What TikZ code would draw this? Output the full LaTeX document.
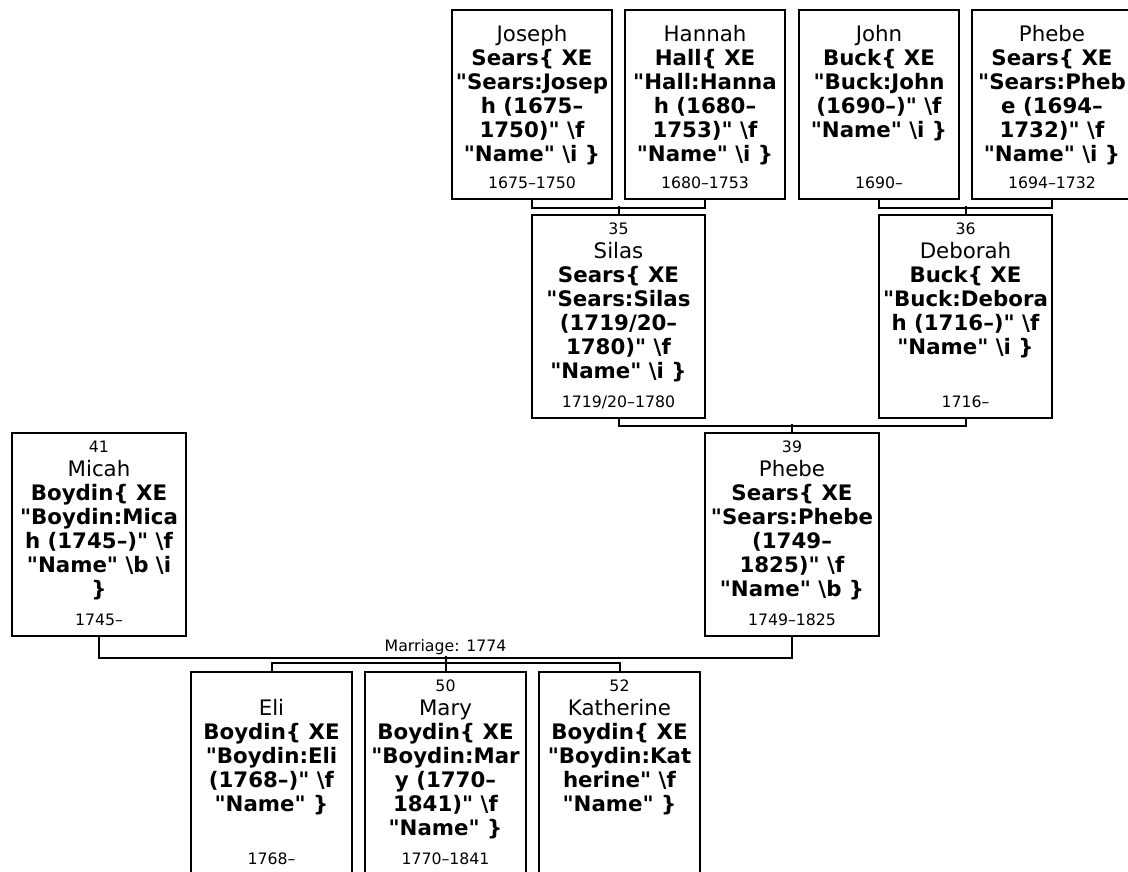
\documentclass[tikz,border=0pt]{standalone}
\usepackage{fontspec}
\newfontfamily\vfont{DejaVu Sans}
\usetikzlibrary{calc, fit}
\tikzset{
  pbox/.style={draw, line width=1.5pt, inner sep=0pt},
  ptxt/.style={anchor=north, align=center, inner sep=6.5pt, font=\vfont\fontsize{16}{18}\selectfont},
  pdat/.style={anchor=base, inner sep=0pt, font=\vfont\fontsize{11.8}{13}\selectfont},
  link/.style={line width=1.5pt},
  mlab/.style={font=\vfont\fontsize{11.8}{13}\selectfont, inner sep=2pt}
}
\newcommand{\bsl}{\textbackslash}
\newcommand{\pnum}[1]{{\fontsize{11.8}{13}\selectfont #1}}
\newcommand{\person}[6][]{%
  \node[pbox, fit={#3 #4}] (#2) {};
  \node[ptxt, #1] (#2-t) at (#2.north) {#5};
  \node[pdat] (#2-d) at ($(#2.south)+(0,-12)$) {#6};
}

\begin{document}
\begin{tikzpicture}[x=0.75pt, y=-0.75pt]
	\clip (0,0) rectangle (1128,871);
	% parents of Silas and Deborah
	\person[yshift=-5.75pt]{joseph}{(452,10)}{(612,199)}{Joseph\\ \textbf{Sears\{ XE}\\ \textbf{"Sears:Josep}\\ \textbf{h (1675–}\\ \textbf{1750)" \bsl f}\\ \textbf{"Name" \bsl i \}}}{1675–1750}
	\person[yshift=-5.75pt]{hannah}{(625,10)}{(785,199)}{Hannah\\ \textbf{Hall\{ XE}\\ \textbf{"Hall:Hanna}\\ \textbf{h (1680–}\\ \textbf{1753)" \bsl f}\\ \textbf{"Name" \bsl i \}}}{1680–1753}
	\person[yshift=-5.75pt]{john}{(799,10)}{(959,199)}{John\\ \textbf{Buck\{ XE}\\ \textbf{"Buck:John}\\ \textbf{(1690–)" \bsl f}\\ \textbf{"Name" \bsl i \}}}{1690–}
	\person[yshift=-5.75pt]{phebe}{(972,10)}{(1132,199)}{Phebe\\ \textbf{Sears\{ XE}\\ \textbf{"Sears:Pheb}\\ \textbf{e (1694–}\\ \textbf{1732)" \bsl f}\\ \textbf{"Name" \bsl i \}}}{1694–1732}
	% second row
	\person{silas}{(532,215)}{(705,418)}{\pnum{35}\\ Silas\\ \textbf{Sears\{ XE}\\ \textbf{"Sears:Silas}\\ \textbf{(1719/20–}\\ \textbf{1780)" \bsl f}\\ \textbf{"Name" \bsl i \}}}{1719/20–1780}
	\person{deborah}{(879,215)}{(1052,418)}{\pnum{36}\\ Deborah\\ \textbf{Buck\{ XE}\\ \textbf{"Buck:Debora}\\ \textbf{h (1716–)" \bsl f}\\ \textbf{"Name" \bsl i \}}}{1716–}
	% the couple
	\person{micah}{(12,433)}{(186,636)}{\pnum{41}\\ Micah\\ \textbf{Boydin\{ XE}\\ \textbf{"Boydin:Mica}\\ \textbf{h (1745–)" \bsl f}\\ \textbf{"Name" \bsl b \bsl i}\\ \textbf{\}}}{1745–}
	\person{phebe2}{(705,433)}{(879,636)}{\pnum{39}\\ Phebe\\ \textbf{Sears\{ XE}\\ \textbf{"Sears:Phebe}\\ \textbf{(1749–}\\ \textbf{1825)" \bsl f}\\ \textbf{"Name" \bsl b \}}}{1749–1825}
	% children
	\person{eli}{(191,672)}{(352,875)}{\pnum{\phantom{0}}\\ Eli\\ \textbf{Boydin\{ XE}\\ \textbf{"Boydin:Eli}\\ \textbf{(1768–)" \bsl f}\\ \textbf{"Name" \}}}{1768–}
	\person{mary}{(365,672)}{(526,875)}{\pnum{50}\\ Mary\\ \textbf{Boydin\{ XE}\\ \textbf{"Boydin:Mar}\\ \textbf{y (1770–}\\ \textbf{1841)" \bsl f}\\ \textbf{"Name" \}}}{1770–1841}
	\person{kath}{(539,672)}{(700,875)}{\pnum{52}\\ Katherine\\ \textbf{Boydin\{ XE}\\ \textbf{"Boydin:Kat}\\ \textbf{herine" \bsl f}\\ \textbf{"Name" \}}}{}
	% family lines
	\draw[link] (joseph.south) -- ++(0,8) -| (hannah.south);
	\draw[link] (silas.north) -- ++(0,-8);
	\draw[link] (john.south) -- ++(0,8) -| (phebe.south);
	\draw[link] (deborah.north) -- ++(0,-8);
	\draw[link] (silas.south) -- ++(0,7) -| (deborah.south);
	\draw[link] (phebe2.north) -- ++(0,-8);
	\draw[link] (micah.south) -- ++(0,21) -| node[mlab, pos=0.25, above] {Marriage: 1774} (phebe2.south);
	\draw[link] (mary.north) -- ++(0,-15);
	\draw[link] (eli.north) -- ++(0,-8) -| (kath.north);
\end{tikzpicture}
\end{document}
